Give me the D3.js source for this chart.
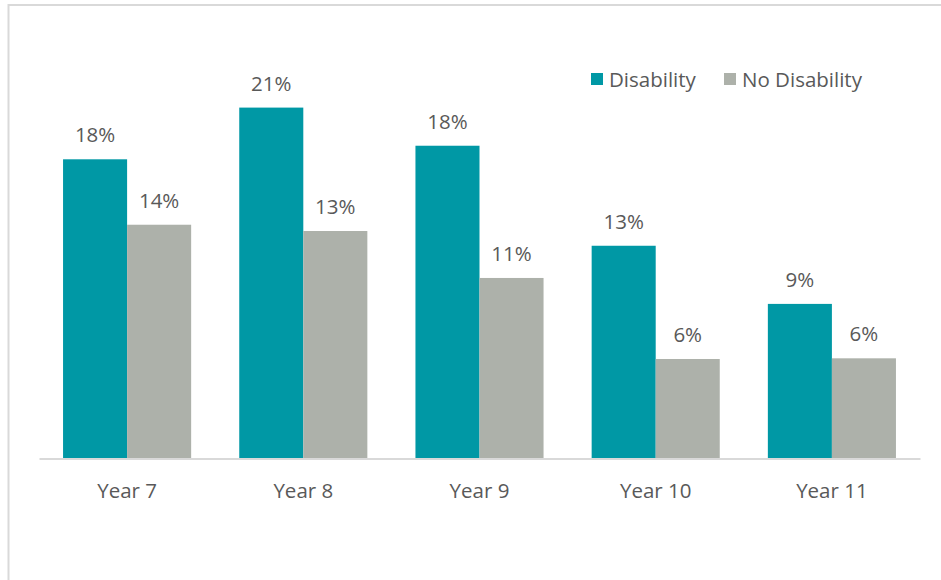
<!DOCTYPE html>
<html>
<head>
<meta charset="utf-8">
<script src="https://cdn.jsdelivr.net/npm/d3@7"></script>
<style>
  html, body { margin: 0; padding: 0; background: #fff; }
  svg { display: block; }
  text { font-family: "Open Sans", "Noto Sans", sans-serif; fill: #595959; }
</style>
</head>
<body>
<svg id="chart" width="941" height="580"></svg>
<script>
// School year groups along the x axis
const categories = ["Year 7", "Year 8", "Year 9", "Year 10", "Year 11"];
// Series names and colours
const seriesNames = ["Disability", "No Disability"];
const seriesColors = ["#0098A5", "#ADB1AA"];
// Share of students per year group (fraction)
const disability   = [0.1765, 0.2070, 0.1845, 0.1255, 0.0912];
const noDisability = [0.1379, 0.1342, 0.1065, 0.0587, 0.0591];

const svg = d3.select("#chart");
const W = 941, H = 580;
const FS = "20.5px";

// Outer frame (left and top edges visible)
svg.append("rect")
  .attr("x", 8.5).attr("y", 5)
  .attr("width", W + 20).attr("height", H + 20)
  .attr("fill", "#fff")
  .attr("stroke", "#d9d9d9").attr("stroke-width", 2);

const plot = { left: 39, right: 920, top: 34.7, bottom: 458.5 };

const x0 = d3.scaleBand()
  .domain(categories)
  .range([plot.left, plot.right])
  .paddingInner(0).paddingOuter(0);

const groupFrac = 0.727;
const x1 = d3.scaleBand()
  .domain(seriesNames)
  .range([x0.bandwidth() * (1 - groupFrac) / 2, x0.bandwidth() * (1 + groupFrac) / 2])
  .padding(0);

const y = d3.scaleLinear().domain([0, 0.25]).range([plot.bottom, plot.top]);

const rows = categories.map((c, i) => ({
  cat: c,
  vals: [
    { s: seriesNames[0], v: disability[i], color: seriesColors[0] },
    { s: seriesNames[1], v: noDisability[i], color: seriesColors[1] }
  ]
}));

const fmt = d3.format(".0%");

const groups = svg.append("g").selectAll("g")
  .data(rows).join("g")
  .attr("transform", d => `translate(${x0(d.cat)},0)`);

groups.selectAll("rect")
  .data(d => d.vals).join("rect")
  .attr("x", d => x1(d.s))
  .attr("y", d => y(d.v))
  .attr("width", x1.bandwidth())
  .attr("height", d => y(0) - y(d.v))
  .attr("fill", d => d.color);

groups.selectAll("text.val")
  .data(d => d.vals).join("text")
  .attr("class", "val")
  .attr("x", d => x1(d.s) + x1.bandwidth() / 2)
  .attr("y", d => y(d.v) - 17)
  .attr("text-anchor", "middle")
  .style("font-size", FS)
  .text(d => fmt(d.v));

// Category axis
const xAxis = svg.append("g")
  .attr("transform", `translate(0,${plot.bottom})`)
  .call(d3.axisBottom(x0).tickSize(0).tickPadding(25));
xAxis.select(".domain").attr("stroke", "#d9d9d9").attr("stroke-width", 2);
xAxis.selectAll("text")
  .style("font-size", FS)
  .style("font-family", "'Open Sans', 'Noto Sans', sans-serif")
  .attr("fill", "#595959");

// Legend
const legendItems = [
  { name: seriesNames[0], color: seriesColors[0], x: 591 },
  { name: seriesNames[1], color: seriesColors[1], x: 724 }
];
const legend = svg.append("g");
const li = legend.selectAll("g").data(legendItems).join("g")
  .attr("transform", d => `translate(${d.x},73)`);
li.append("rect").attr("width", 12).attr("height", 12).attr("fill", d => d.color);
li.append("text")
  .attr("x", 18).attr("y", 13.5)
  .style("font-size", FS)
  .text(d => d.name);
</script>
</body>
</html>
